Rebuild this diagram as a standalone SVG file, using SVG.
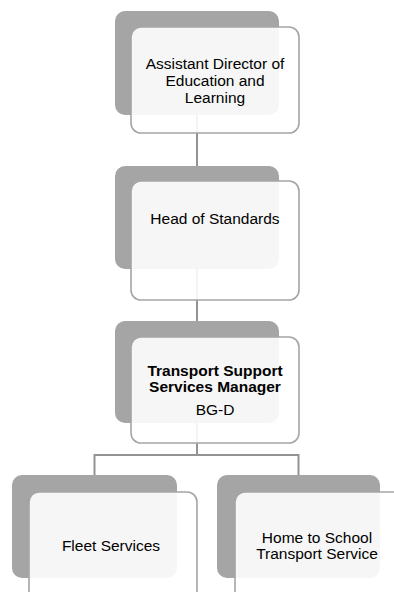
<svg xmlns="http://www.w3.org/2000/svg" width="394" height="592" viewBox="0 0 394 592">
<style>
.back{fill:#a5a5a5;}
.front{fill:#ffffff;fill-opacity:0.9;stroke:#a5a5a5;stroke-width:1.6;}
.conn{fill:none;stroke:#939393;stroke-width:2;}
text{font-family:"Liberation Sans",Arial,sans-serif;font-size:15.5px;fill:#000;text-anchor:middle;}
.b{font-weight:bold;}
</style>
<rect width="394" height="592" fill="#ffffff"/>
<g id="connectors">
<path class="conn" d="M197,115 V166"/>
<path class="conn" d="M197,269 V321"/>
<path class="conn" d="M197,423 V455 M94.5,475 V455 H298.5 V475"/>
</g>
<g id="n1">
<rect class="back" x="115" y="11" width="164" height="104" rx="10"/>
<rect class="front" x="131" y="27" width="168" height="106" rx="10"/>
<text x="215" y="68.5">Assistant Director of</text>
<text x="215" y="85.5">Education and</text>
<text x="215" y="102.5">Learning</text>
</g>
<g id="n2">
<rect class="back" x="115" y="166" width="164" height="103" rx="10"/>
<rect class="front" x="131" y="181" width="168" height="119" rx="10"/>
<text x="215" y="223.5">Head of Standards</text>
</g>
<g id="n3">
<rect class="back" x="115" y="321" width="164" height="102" rx="10"/>
<rect class="front" x="131" y="337" width="168" height="106" rx="10"/>
<text class="b" x="215" y="375.5">Transport Support</text>
<text class="b" x="215" y="391.5">Services Manager</text>
<text x="215" y="414.5">BG-D</text>
</g>
<g id="n4">
<rect class="back" x="12" y="475" width="165" height="103" rx="10"/>
<rect class="front" x="29" y="492" width="168" height="119" rx="10"/>
<text x="111" y="550.5">Fleet Services</text>
</g>
<g id="n5">
<rect class="back" x="217" y="475" width="163" height="103" rx="10"/>
<rect class="front" x="235" y="492" width="168" height="119" rx="10"/>
<text x="317" y="542.5">Home to School</text>
<text x="317" y="558.5">Transport Service</text>
</g>
</svg>
